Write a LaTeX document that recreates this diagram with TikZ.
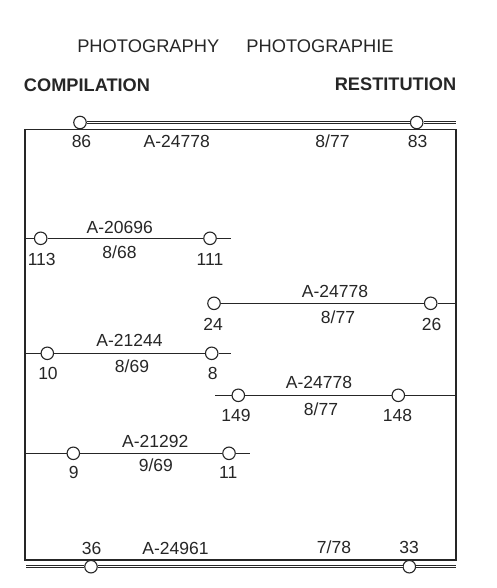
\documentclass[tikz,border=0pt]{standalone}
\usepackage{fontspec}
\setmainfont{Liberation Sans}
\begin{document}
\begin{tikzpicture}[x=1pt,y=-1pt,
  port/.style={circle,draw=black!85,fill=white,line width=1.1pt,minimum size=12.5pt,inner sep=0pt},
  wire/.style={draw=black!85,line width=1.1pt},
  dwire/.style={draw=black!85,line width=0.8pt,double=white,double distance=1.3pt},
  frame/.style={draw=black!85,line width=1.2pt},
  lbl/.style={anchor=base,inner sep=0pt,text=black!85,font=\fontsize{17.5}{20}\selectfont},
  head/.style={anchor=base,inner sep=0pt,text=black!85,font=\fontsize{18.3}{21}\selectfont},
  headb/.style={anchor=base,inner sep=0pt,text=black!85,font=\bfseries\fontsize{18.2}{21}\selectfont}]
\useasboundingbox (0,0) rectangle (496,588);
% headings
\node[head] (h1) at (148.3,53) {PHOTOGRAPHY};
\node[head] (h2) at (320,53) {PHOTOGRAPHIE};
\node[headb] (h3) at (87,91.5) {COMPILATION};
\node[headb] (h4) at (395.5,90.5) {RESTITUTION};
% frame
\coordinate (ftl) at (25,129.3);
\coordinate (ftr) at (456,129.3);
\coordinate (fbr) at (456,560);
\coordinate (fbl) at (25,560);
\draw[frame] (ftl) -- (ftr) -- (fbr) -- (fbl) -- cycle;
% top line
\node[port] (c86) at (80,122.5) {};
\node[port] (c83) at (416.7,122.5) {};
\coordinate (te) at (456,122.5);
\draw[dwire] (c86.east) -- (c83.west);
\draw[dwire] (c83.east) -- (te);
\node[lbl] (l86) at (81.5,148) {86};
\node[lbl] (ltA) at (176.7,148) {A-24778};
\node[lbl] (ltd) at (332.5,148) {8/77};
\node[lbl] (l83) at (417.5,148) {83};
% bottom line
\coordinate (bs) at (26,566.7);
\coordinate (be) at (456,566.7);
\node[port] (c36) at (91,566.7) {};
\node[port] (c33) at (409.3,566.7) {};
\draw[dwire] (bs) -- (c36.west);
\draw[dwire] (c36.east) -- (c33.west);
\draw[dwire] (c33.east) -- (be);
\node[lbl] (l36) at (91.7,554) {36};
\node[lbl] (lbA) at (175.5,554) {A-24961};
\node[lbl] (lbd) at (334,553) {7/78};
\node[lbl] (l33) at (409,553) {33};
% A-20696
\coordinate (s1) at (25,238.3);
\coordinate (e1) at (231,238.3);
\node[port] (c113) at (40.7,238.3) {};
\node[port] (c111) at (210,238.3) {};
\draw[wire] (s1) -- (c113) -- (c111) -- (e1);
\node[lbl] (a1) at (119.8,233) {A-20696};
\node[lbl] (d1) at (119.5,258) {8/68};
\node[lbl] (l113) at (41.7,265) {113};
\node[lbl] (l111) at (210,265) {111};
% A-24778 (24-26)
\coordinate (e2) at (456,303.3);
\node[port] (c24) at (214,303.3) {};
\node[port] (c26) at (430.7,303.3) {};
\draw[wire] (c24) -- (c26) -- (e2);
\node[lbl] (a2) at (335,297) {A-24778};
\node[lbl] (d2) at (338,323) {8/77};
\node[lbl] (l24) at (213,330) {24};
\node[lbl] (l26) at (431.7,330) {26};
% A-21244
\coordinate (s3) at (25,353.3);
\coordinate (e3) at (231,353.3);
\node[port] (c10) at (47.3,353.3) {};
\node[port] (c8) at (211.7,353.3) {};
\draw[wire] (s3) -- (c10) -- (c8) -- (e3);
\node[lbl] (a3) at (129.5,346.5) {A-21244};
\node[lbl] (d3) at (132,372.3) {8/69};
\node[lbl] (l10) at (48,379) {10};
\node[lbl] (l8) at (212.7,379) {8};
% A-24778 (149-148)
\coordinate (s4) at (215,395.3);
\coordinate (e4) at (456,395.3);
\node[port] (c149) at (238.3,395.3) {};
\node[port] (c148) at (398.3,395.3) {};
\draw[wire] (s4) -- (c149) -- (c148) -- (e4);
\node[lbl] (a4) at (319,388) {A-24778};
\node[lbl] (d4) at (321,415) {8/77};
\node[lbl] (l149) at (236,421.5) {149};
\node[lbl] (l148) at (397.5,421.5) {148};
% A-21292
\coordinate (s5) at (25,453.3);
\coordinate (e5) at (250,453.3);
\node[port] (c9) at (73.3,453.3) {};
\node[port] (c11) at (229,453.3) {};
\draw[wire] (s5) -- (c9) -- (c11) -- (e5);
\node[lbl] (a5) at (155.3,447) {A-21292};
\node[lbl] (d5) at (155.8,471.5) {9/69};
\node[lbl] (l9) at (73.8,478) {9};
\node[lbl] (l11) at (228.3,478) {11};
\end{tikzpicture}
\end{document}
